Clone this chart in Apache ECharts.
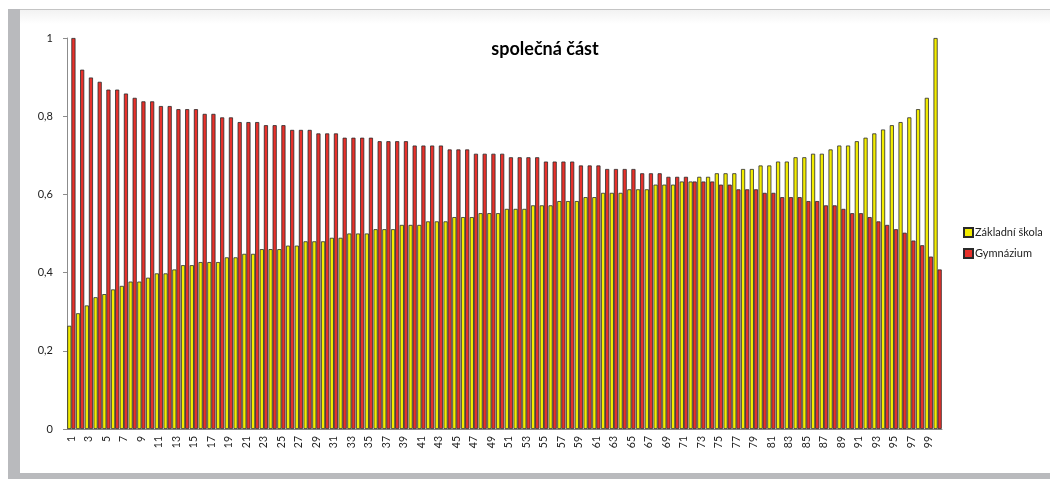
<!DOCTYPE html>
<html>
<head>
<meta charset="utf-8">
<script src="https://cdn.jsdelivr.net/npm/echarts@6/dist/echarts.min.js"></script>
<style>
  html, body { margin: 0; padding: 0; background: #fff; }
  #chart { width: 1050px; height: 479px; }
</style>
</head>
<body>
<div id="chart"></div>
<script>
// categories 1..100 (only odd ones get a label)
const categories = [];
for (let i = 1; i <= 100; i++) categories.push(String(i));

const zakladniSkola = [
  0.264, 0.296, 0.316, 0.337, 0.345, 0.357, 0.366, 0.377, 0.377, 0.387,
  0.398, 0.398, 0.408, 0.419, 0.419, 0.427, 0.427, 0.427, 0.439, 0.439,
  0.448, 0.448, 0.460, 0.460, 0.460, 0.469, 0.469, 0.480, 0.480, 0.480,
  0.489, 0.489, 0.500, 0.500, 0.500, 0.511, 0.511, 0.511, 0.522, 0.522,
  0.522, 0.531, 0.531, 0.531, 0.542, 0.542, 0.542, 0.552, 0.552, 0.552,
  0.563, 0.563, 0.563, 0.572, 0.572, 0.572, 0.583, 0.583, 0.583, 0.593,
  0.593, 0.604, 0.604, 0.604, 0.613, 0.613, 0.613, 0.625, 0.625, 0.625,
  0.633, 0.633, 0.645, 0.645, 0.654, 0.654, 0.654, 0.665, 0.665, 0.674,
  0.674, 0.684, 0.684, 0.695, 0.695, 0.704, 0.704, 0.715, 0.725, 0.725,
  0.736, 0.745, 0.756, 0.766, 0.777, 0.785, 0.797, 0.818, 0.847, 1.000
];

const gymnazium = [
  1.000, 0.919, 0.899, 0.888, 0.868, 0.868, 0.858, 0.847, 0.838, 0.838,
  0.826, 0.826, 0.818, 0.818, 0.818, 0.806, 0.806, 0.797, 0.797, 0.785,
  0.785, 0.785, 0.777, 0.777, 0.777, 0.765, 0.765, 0.765, 0.756, 0.756,
  0.756, 0.745, 0.745, 0.745, 0.745, 0.736, 0.736, 0.736, 0.736, 0.725,
  0.725, 0.725, 0.725, 0.715, 0.715, 0.715, 0.704, 0.704, 0.704, 0.704,
  0.695, 0.695, 0.695, 0.695, 0.684, 0.684, 0.684, 0.684, 0.674, 0.674,
  0.674, 0.665, 0.665, 0.665, 0.665, 0.654, 0.654, 0.654, 0.645, 0.645,
  0.645, 0.633, 0.633, 0.633, 0.625, 0.625, 0.613, 0.613, 0.613, 0.604,
  0.604, 0.593, 0.593, 0.593, 0.583, 0.583, 0.572, 0.572, 0.563, 0.552,
  0.552, 0.542, 0.531, 0.522, 0.511, 0.502, 0.482, 0.470, 0.441, 0.408
];

const yTicks = ["0", "0,2", "0,4", "0,6", "0,8", "1"];

const myChart = echarts.init(document.getElementById("chart"));

const option = {
  animation: false,
  backgroundColor: "#fff",
  graphic: [
    // slight outer frame like the exported Excel chart
    { type: "rect", shape: { x: 8, y: 9, width: 1042, height: 1 }, style: { fill: "#c4c4c4" }, z: -1 },
    { type: "rect", shape: { x: 20, y: 10, width: 1030, height: 14 },
      style: { fill: { type: "linear", x: 0, y: 0, x2: 0, y2: 1,
        colorStops: [{ offset: 0, color: "#f2f2f2" }, { offset: 1, color: "#ffffff" }] } }, z: -1 },
    { type: "rect", shape: { x: 8, y: 9, width: 12, height: 470 }, style: { fill: "#b9babd" }, z: -1 },
    { type: "rect", shape: { x: 8, y: 473, width: 1042, height: 6 }, style: { fill: "#b9babd" }, z: -1 }
  ],
  title: {
    text: "společná část",
    left: 540,
    top: 35,
    textAlign: "center",
    textStyle: {
      fontFamily: "Lato",
      fontWeight: "bold",
      fontSize: 18,
      color: "#000"
    }
  },
  legend: {
    orient: "vertical",
    left: 958,
    top: 222,
    itemWidth: 9,
    itemHeight: 9,
    itemGap: 10,
    icon: "rect",
    textStyle: { fontFamily: "Lato", fontSize: 11, color: "#222", padding: [0, 0, 0, -3] },
    data: ["Základní škola", "Gymnázium"]
  },
  grid: {
    left: 67,
    right: 108,
    top: 38,
    bottom: 50
  },
  xAxis: {
    type: "category",
    data: categories,
    axisLine: { lineStyle: { color: "#8c8c8c" } },
    axisTick: { interval: 0, length: 4, lineStyle: { color: "#8c8c8c" } },
    axisLabel: {
      interval: 1,
      rotate: 90,
      fontFamily: "Lato",
      fontSize: 10.5,
      color: "#222",
      margin: 7
    }
  },
  yAxis: {
    type: "value",
    min: 0,
    max: 1,
    interval: 0.2,
    splitLine: { show: false },
    axisLine: { show: true, lineStyle: { color: "#8c8c8c" } },
    axisTick: { show: true, length: 4, lineStyle: { color: "#8c8c8c" } },
    axisLabel: {
      fontFamily: "Lato",
      fontSize: 11,
      color: "#222",
      margin: 14,
      formatter: (v) => yTicks[Math.round(v * 5)]
    }
  },
  series: [
    {
      name: "Základní škola",
      type: "bar",
      data: zakladniSkola,
      barGap: "0%",
      barCategoryGap: "6%",
      itemStyle: { color: "#f2ec00", borderColor: "#2a2a2a", borderWidth: 0.8 }
    },
    {
      name: "Gymnázium",
      type: "bar",
      data: gymnazium,
      itemStyle: { color: "#e8312b", borderColor: "#2a2a2a", borderWidth: 0.8 }
    }
  ]
};

myChart.setOption(option);
</script>
</body>
</html>
